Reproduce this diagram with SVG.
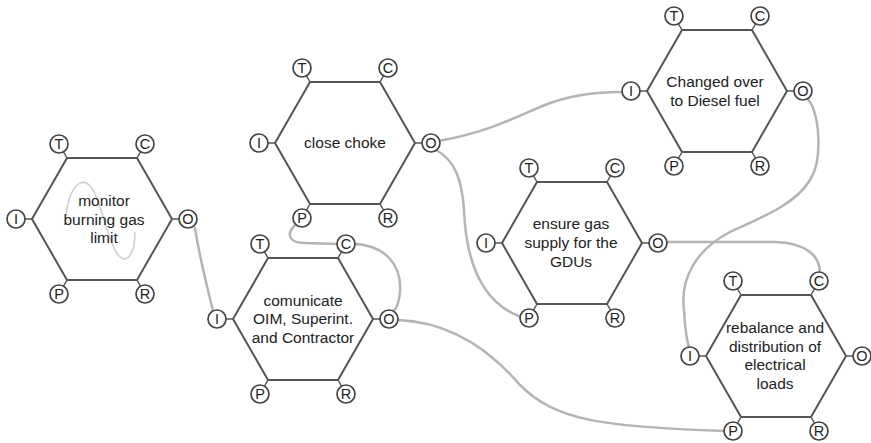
<svg xmlns="http://www.w3.org/2000/svg" width="871" height="443" viewBox="0 0 871 443">
<style>
.hex{fill:none;stroke:#555;stroke-width:2;stroke-linejoin:round}
.stub{stroke:#555;stroke-width:1.5}
.port{fill:#fff;stroke:#444;stroke-width:1.7}
.pl{font-family:"Liberation Sans",Arial,sans-serif;font-size:14.5px;fill:#222;text-anchor:middle}
.lbl{font-family:"Liberation Sans",Arial,sans-serif;font-size:15.5px;fill:#222;text-anchor:middle}
.con{fill:none;stroke:#b4b4b4;stroke-width:2.5;stroke-linecap:round}
.loop{fill:none;stroke:#cfcfcf;stroke-width:1.6}
</style>
<rect width="871" height="443" fill="#fff"/>
<g id="connectors">
<path class="loop" d="M66,216 C69,186 84,170 95,194 C103,212 108,238 116,252 C124,266 135,258 135,232"/>
<path class="con" d="M195,228 C200,260 208,290 213,311"/>
<path class="con" d="M295,225 C285,235 290,243 305,243 L338,244"/>
<path class="con" d="M354,244 C385,245 402,265 400,292 C399,303 396,309 393,312"/>
<path class="con" d="M398,320 C450,322 490,350 520,385 C555,420 600,427 725,431"/>
<path class="con" d="M438,141 C490,132 520,115 545,105 C570,95 595,92 622,92"/>
<path class="con" d="M436,150 C455,160 462,180 464,210 C466,260 480,302 521,317"/>
<path class="con" d="M666,242 L775,242 C805,243 820,255 820,273"/>
<path class="con" d="M808,99 C820,115 823,160 810,180 C795,205 760,218 730,232 C695,250 680,280 684,310 C685,330 687,340 689,348"/>
</g>
<g id="n1" transform="translate(102,219)">
<polygon class="hex" points="-70,0 -35,-61 35,-61 70,0 35,61 -35,61"/>
<path class="stub" d="M-86,0 L-70,0 M86,0 L70,0 M-43,-75 L-35,-61 M43,-75 L35,-61 M-43,75 L-35,61 M43,75 L35,61"/>
<circle class="port" cx="-86" cy="0" r="9"/><text class="pl" x="-86" y="5.2">I</text>
<circle class="port" cx="-43" cy="-75" r="9"/><text class="pl" x="-43" y="-69.8">T</text>
<circle class="port" cx="43" cy="-75" r="9"/><text class="pl" x="43" y="-69.8">C</text>
<circle class="port" cx="86" cy="0" r="9"/><text class="pl" x="86" y="5.2">O</text>
<circle class="port" cx="-43" cy="75" r="9"/><text class="pl" x="-43" y="80.2">P</text>
<circle class="port" cx="43" cy="75" r="9"/><text class="pl" x="43" y="80.2">R</text>
<text class="lbl" x="2" y="-13">monitor</text>
<text class="lbl" x="2" y="5.5">burning gas</text>
<text class="lbl" x="2" y="24">limit</text>
</g>
<g id="n2" transform="translate(345,143)">
<polygon class="hex" points="-70,0 -35,-61 35,-61 70,0 35,61 -35,61"/>
<path class="stub" d="M-86,0 L-70,0 M86,0 L70,0 M-43,-75 L-35,-61 M43,-75 L35,-61 M-43,75 L-35,61 M43,75 L35,61"/>
<circle class="port" cx="-86" cy="0" r="9"/><text class="pl" x="-86" y="5.2">I</text>
<circle class="port" cx="-43" cy="-75" r="9"/><text class="pl" x="-43" y="-69.8">T</text>
<circle class="port" cx="43" cy="-75" r="9"/><text class="pl" x="43" y="-69.8">C</text>
<circle class="port" cx="86" cy="0" r="9"/><text class="pl" x="86" y="5.2">O</text>
<circle class="port" cx="-43" cy="75" r="9"/><text class="pl" x="-43" y="80.2">P</text>
<circle class="port" cx="43" cy="75" r="9"/><text class="pl" x="43" y="80.2">R</text>
<text class="lbl" x="0" y="4.5">close choke</text>
</g>
<g id="n3" transform="translate(303,319)">
<polygon class="hex" points="-70,0 -35,-61 35,-61 70,0 35,61 -35,61"/>
<path class="stub" d="M-86,0 L-70,0 M86,0 L70,0 M-43,-75 L-35,-61 M43,-75 L35,-61 M-43,75 L-35,61 M43,75 L35,61"/>
<circle class="port" cx="-86" cy="0" r="9"/><text class="pl" x="-86" y="5.2">I</text>
<circle class="port" cx="-43" cy="-75" r="9"/><text class="pl" x="-43" y="-69.8">T</text>
<circle class="port" cx="43" cy="-75" r="9"/><text class="pl" x="43" y="-69.8">C</text>
<circle class="port" cx="86" cy="0" r="9"/><text class="pl" x="86" y="5.2">O</text>
<circle class="port" cx="-43" cy="75" r="9"/><text class="pl" x="-43" y="80.2">P</text>
<circle class="port" cx="43" cy="75" r="9"/><text class="pl" x="43" y="80.2">R</text>
<text class="lbl" x="0" y="-13.5">comunicate</text>
<text class="lbl" x="0" y="5">OIM, Superint.</text>
<text class="lbl" x="0" y="23.5">and Contractor</text>
</g>
<g id="n4" transform="translate(572,243)">
<polygon class="hex" points="-70,0 -35,-61 35,-61 70,0 35,61 -35,61"/>
<path class="stub" d="M-86,0 L-70,0 M86,0 L70,0 M-43,-75 L-35,-61 M43,-75 L35,-61 M-43,75 L-35,61 M43,75 L35,61"/>
<circle class="port" cx="-86" cy="0" r="9"/><text class="pl" x="-86" y="5.2">I</text>
<circle class="port" cx="-43" cy="-75" r="9"/><text class="pl" x="-43" y="-69.8">T</text>
<circle class="port" cx="43" cy="-75" r="9"/><text class="pl" x="43" y="-69.8">C</text>
<circle class="port" cx="86" cy="0" r="9"/><text class="pl" x="86" y="5.2">O</text>
<circle class="port" cx="-43" cy="75" r="9"/><text class="pl" x="-43" y="80.2">P</text>
<circle class="port" cx="43" cy="75" r="9"/><text class="pl" x="43" y="80.2">R</text>
<text class="lbl" x="-1" y="-14">ensure gas</text>
<text class="lbl" x="-1" y="5">supply for the</text>
<text class="lbl" x="-1" y="24">GDUs</text>
</g>
<g id="n5" transform="translate(717,91)">
<polygon class="hex" points="-70,0 -35,-61 35,-61 70,0 35,61 -35,61"/>
<path class="stub" d="M-86,0 L-70,0 M86,0 L70,0 M-43,-75 L-35,-61 M43,-75 L35,-61 M-43,75 L-35,61 M43,75 L35,61"/>
<circle class="port" cx="-86" cy="0" r="9"/><text class="pl" x="-86" y="5.2">I</text>
<circle class="port" cx="-43" cy="-75" r="9"/><text class="pl" x="-43" y="-69.8">T</text>
<circle class="port" cx="43" cy="-75" r="9"/><text class="pl" x="43" y="-69.8">C</text>
<circle class="port" cx="86" cy="0" r="9"/><text class="pl" x="86" y="5.2">O</text>
<circle class="port" cx="-43" cy="75" r="9"/><text class="pl" x="-43" y="80.2">P</text>
<circle class="port" cx="43" cy="75" r="9"/><text class="pl" x="43" y="80.2">R</text>
<text class="lbl" x="-2" y="-4">Changed over</text>
<text class="lbl" x="-2" y="15">to Diesel fuel</text>
</g>
<g id="n6" transform="translate(776,356)">
<polygon class="hex" points="-70,0 -35,-61 35,-61 70,0 35,61 -35,61"/>
<path class="stub" d="M-86,0 L-70,0 M86,0 L70,0 M-43,-75 L-35,-61 M43,-75 L35,-61 M-43,75 L-35,61 M43,75 L35,61"/>
<circle class="port" cx="-86" cy="0" r="9"/><text class="pl" x="-86" y="5.2">I</text>
<circle class="port" cx="-43" cy="-75" r="9"/><text class="pl" x="-43" y="-69.8">T</text>
<circle class="port" cx="43" cy="-75" r="9"/><text class="pl" x="43" y="-69.8">C</text>
<circle class="port" cx="86" cy="0" r="9"/><text class="pl" x="86" y="5.2">O</text>
<circle class="port" cx="-43" cy="75" r="9"/><text class="pl" x="-43" y="80.2">P</text>
<circle class="port" cx="43" cy="75" r="9"/><text class="pl" x="43" y="80.2">R</text>
<text class="lbl" x="-1" y="-23">rebalance and</text>
<text class="lbl" x="-1" y="-4.5">distribution of</text>
<text class="lbl" x="-1" y="14">electrical</text>
<text class="lbl" x="-1" y="32.5">loads</text>
</g>
</svg>
